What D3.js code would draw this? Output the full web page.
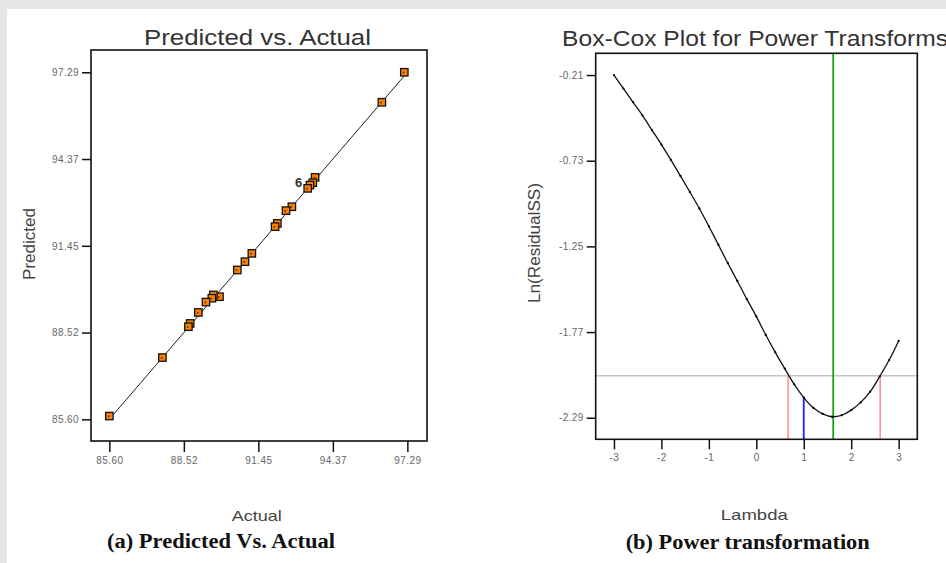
<!DOCTYPE html>
<html><head><meta charset="utf-8">
<script src="https://cdn.jsdelivr.net/npm/d3@7/dist/d3.min.js"></script>
<style>
html,body{margin:0;padding:0;background:#e6e6e6;overflow:hidden}
svg{display:block}
</style></head><body>
<svg id="c" width="946" height="563"></svg>
<script>
// ---------- Data: (a) Predicted vs. Actual ----------
const actualValues    = [97.17, 96.29, 93.67, 93.58, 93.47, 93.38, 92.76, 92.53, 92.19, 92.10, 91.19, 90.92, 90.62, 89.92, 89.68, 89.62, 89.39, 89.09, 88.77, 88.70, 87.68, 85.60];
const predictedValues = [97.29, 96.28, 93.75, 93.57, 93.49, 93.38, 92.76, 92.63, 92.20, 92.09, 91.19, 90.91, 90.63, 89.73, 89.79, 89.68, 89.55, 89.20, 88.83, 88.72, 87.68, 85.71];
const replicateCount = "6";
const replicatePoint = 5; // index of the point carrying the "6" label
const pvaTickValues = [85.6, 88.5225, 91.445, 94.3675, 97.29];
const pvaTickLabels = ["85.60", "88.52", "91.45", "94.37", "97.29"];

// ---------- Data: (b) Box-Cox plot ----------
const lambdaValues = [-3.0, -2.8, -2.6, -2.4, -2.2, -2.0, -1.8, -1.6, -1.4, -1.2, -1.0, -0.8, -0.6, -0.4, -0.2, 0.0, 0.2, 0.4, 0.6, 0.8, 1.0, 1.2, 1.4, 1.6, 1.8, 2.0, 2.2, 2.4, 2.6, 2.8, 3.0];
const lnResidualSS = [-0.210, -0.292, -0.374, -0.455, -0.544, -0.632, -0.725, -0.822, -0.920, -1.020, -1.128, -1.240, -1.352, -1.460, -1.570, -1.675, -1.788, -1.893, -1.992, -2.088, -2.168, -2.230, -2.267, -2.284, -2.275, -2.244, -2.197, -2.132, -2.040, -1.940, -1.824];
const bcTickValuesY = [-0.21, -0.73, -1.25, -1.77, -2.29];
const bcTickLabelsY = ["-0.21", "-0.73", "-1.25", "-1.77", "-2.29"];
const bcTickValuesX = [-3, -2, -1, 0, 1, 2, 3];
const bcTickLabelsX = ["-3", "-2", "-1", "0", "1", "2", "3"];
const bestLambda = 1.62;
const currentLambda = 1;
const currentLnRSS = -2.168;
const ciLow = 0.67;
const ciHigh = 2.61;
const ciThreshold = -2.036;

// ---------- Text ----------
const titleA = "Predicted vs. Actual", xLabelA = "Actual", yLabelA = "Predicted", captionA = "(a) Predicted Vs. Actual";
const titleB = "Box-Cox Plot for Power Transforms", xLabelB = "Lambda", yLabelB = "Ln(ResidualSS)", captionB = "(b) Power transformation";

const svg = d3.select("#c");
svg.append("rect").attr("x", 0).attr("y", 0).attr("width", 946).attr("height", 563).attr("fill", "#e6e6e6");
svg.append("rect").attr("x", 7).attr("y", 9).attr("width", 939).attr("height", 554).attr("fill", "#ffffff");

const SANS = "'Liberation Sans', Arial, sans-serif";
const SERIF = "'Liberation Serif', 'Times New Roman', serif";

function styleAxis(g) {
  g.select(".domain").remove();
  g.selectAll(".tick line").attr("stroke", "#111").attr("stroke-width", 1.5);
  g.selectAll(".tick text").attr("fill", "#666").attr("font-family", SANS)
    .attr("font-size", 10).style("letter-spacing", "0.4px");
}

function txt(x, y, s, opt) {
  const t = svg.append("text").attr("x", x).attr("y", y).text(s)
    .attr("font-family", opt.family || SANS).attr("font-size", opt.size)
    .attr("fill", opt.fill || "#333").attr("text-anchor", opt.anchor || "middle");
  if (opt.weight) t.attr("font-weight", opt.weight);
  if (opt.len) t.attr("textLength", opt.len).attr("lengthAdjust", "spacingAndGlyphs");
  if (opt.rotate) t.attr("transform", `rotate(-90 ${x} ${y})`);
  return t;
}

// ================= Chart (a) =================
const ax = d3.scaleLinear().domain([84.88, 98.06]).range([91, 427]);
const ay = d3.scaleLinear().domain([84.87, 98.04]).range([441, 50]);

svg.append("g").attr("transform", "translate(91,0)")
  .call(d3.axisLeft(ay).tickValues(pvaTickValues).tickFormat((d, i) => pvaTickLabels[i]).tickSizeInner(9).tickSizeOuter(0).tickPadding(3))
  .call(styleAxis);
svg.append("g").attr("transform", "translate(0,441)")
  .call(d3.axisBottom(ax).tickValues(pvaTickValues).tickFormat((d, i) => pvaTickLabels[i]).tickSizeInner(11).tickSizeOuter(0).tickPadding(5))
  .call(styleAxis);

svg.append("rect").attr("x", ax.range()[0]).attr("y", ay.range()[1])
  .attr("width", ax.range()[1] - ax.range()[0]).attr("height", ay.range()[0] - ay.range()[1])
  .attr("fill", "none").attr("stroke", "#111").attr("stroke-width", 1.6);

const lo = pvaTickValues[0], hi = pvaTickValues[pvaTickValues.length - 1];
svg.append("line").attr("x1", ax(lo)).attr("y1", ay(lo)).attr("x2", ax(hi)).attr("y2", ay(hi))
  .attr("stroke", "#222").attr("stroke-width", 1);

const pts = actualValues.map((a, i) => ({ a, p: predictedValues[i] }));
const mk = svg.append("g").selectAll("g").data(pts).join("g")
  .attr("transform", d => `translate(${ax(d.a)},${ay(d.p)})`);
mk.append("rect").attr("x", -3.7).attr("y", -3.7).attr("width", 7.4).attr("height", 7.4)
  .attr("fill", "#ff8000").attr("stroke", "#111").attr("stroke-width", 1.3);
mk.append("rect").attr("x", -1.5).attr("y", -0.5).attr("width", 1.6).attr("height", 1.6).attr("fill", "#333");

const rp = pts[replicatePoint];
txt(ax(rp.a) - 5.5, ay(rp.p) - 1.5, replicateCount, { size: 13, anchor: "end", fill: "#333", weight: "bold" });

txt(257.5, 44.5, titleA, { size: 22, len: 227, fill: "#333" });
txt(35, 244, yLabelA, { size: 16, len: 72, fill: "#444", rotate: true });
txt(256.7, 520.5, xLabelA, { size: 15, len: 50, fill: "#444" });
txt(221, 548, captionA, { size: 20, len: 228, fill: "#111", family: SERIF, weight: "bold" });

// ================= Chart (b) =================
const bx = d3.scaleLinear().domain([-3.385, 3.393]).range([595.7, 917.3]);
const by = d3.scaleLinear().domain([-2.421, -0.078]).range([439.3, 53.3]);

svg.append("g").attr("transform", `translate(${bx.range()[0]},0)`)
  .call(d3.axisLeft(by).tickValues(bcTickValuesY).tickFormat((d, i) => bcTickLabelsY[i]).tickSizeInner(9).tickSizeOuter(0).tickPadding(3))
  .call(styleAxis);
svg.append("g").attr("transform", `translate(0,${by.range()[0]})`)
  .call(d3.axisBottom(bx).tickValues(bcTickValuesX).tickFormat((d, i) => bcTickLabelsX[i]).tickSizeInner(10).tickSizeOuter(0).tickPadding(5))
  .call(styleAxis);

const xL = bx.range()[0], xR = bx.range()[1], yT = by.range()[1], yB = by.range()[0];

svg.append("line").attr("x1", xL).attr("x2", xR).attr("y1", by(ciThreshold)).attr("y2", by(ciThreshold))
  .attr("stroke", "#c4c4c4").attr("stroke-width", 1.5);
[ciLow, ciHigh].forEach(l => {
  svg.append("line").attr("x1", bx(l)).attr("x2", bx(l)).attr("y1", yB).attr("y2", by(ciThreshold))
    .attr("stroke", "#ff8c8c").attr("stroke-width", 1.5);
});
svg.append("line").attr("x1", bx(currentLambda)).attr("x2", bx(currentLambda)).attr("y1", yB).attr("y2", by(currentLnRSS))
  .attr("stroke", "#2020ff").attr("stroke-width", 1.8);
svg.append("line").attr("x1", bx(bestLambda)).attr("x2", bx(bestLambda)).attr("y1", yT).attr("y2", yB)
  .attr("stroke", "#00a000").attr("stroke-width", 1.6);

const curveData = lambdaValues.map((l, i) => ({ l, v: lnResidualSS[i] }));
svg.append("path").datum(curveData)
  .attr("d", d3.line().x(d => bx(d.l)).y(d => by(d.v)).curve(d3.curveCatmullRom))
  .attr("fill", "none").attr("stroke", "#111").attr("stroke-width", 1.3);
svg.append("g").selectAll("circle").data(curveData).join("circle")
  .attr("cx", d => bx(d.l)).attr("cy", d => by(d.v)).attr("r", 1.15).attr("fill", "#000");

svg.append("rect").attr("x", xL).attr("y", yT).attr("width", xR - xL).attr("height", yB - yT)
  .attr("fill", "none").attr("stroke", "#111").attr("stroke-width", 1.6);

txt(562, 46, titleB, { size: 22, len: 386, fill: "#333", anchor: "start" });
txt(540, 243, yLabelB, { size: 16, len: 120, fill: "#444", rotate: true });
txt(754.3, 519.5, xLabelB, { size: 15, len: 67, fill: "#444" });
txt(747.7, 549, captionB, { size: 20, len: 244, fill: "#111", family: SERIF, weight: "bold" });
</script>
</body></html>
